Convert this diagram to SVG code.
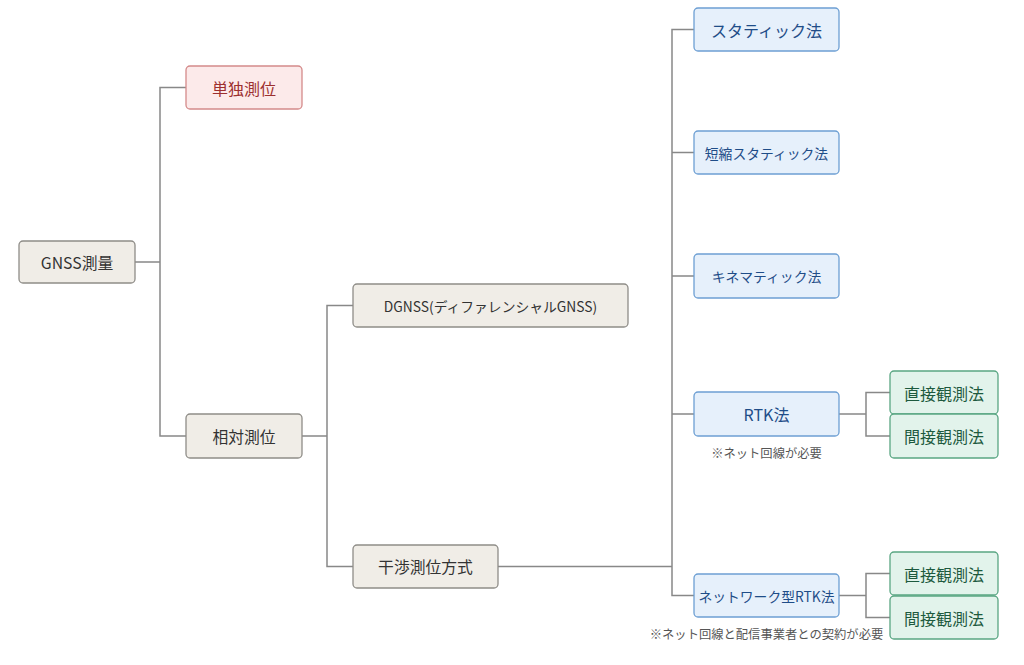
<svg xmlns="http://www.w3.org/2000/svg" width="1024" height="665" viewBox="0 0 1024 665">
<style>
text{font-family:"Noto Sans CJK JP","Noto Sans",sans-serif;text-anchor:middle;dominant-baseline:central}
.g rect{fill:#f0ede7;stroke:#8f8d88;stroke-width:1.3}
.g text{fill:#333;font-size:15.8px}
.r rect{fill:#fceaea;stroke:#d48a8a;stroke-width:1.3}
.r text{fill:#9c2f2f;font-size:16px}
.b rect{fill:#e6f0fb;stroke:#6d9fd3;stroke-width:1.3}
.b text{fill:#1f4d88;font-size:16px}
.b text.s{font-size:13.8px}
.gr rect{fill:#e2f3eb;stroke:#5aa683;stroke-width:1.3}
.gr text{fill:#1d5a3e;font-size:16px}
.note{fill:#555;font-size:12.3px}
.c path{fill:none;stroke:#888;stroke-width:1.5}
</style>
<g class="c" id="connectors">
<path d="M135 262H160M186 87.5H160V436H186"/>
<path d="M302 436H327M353 305.5H327V566.5H353"/>
<path d="M498 566.5H672M694 29.5H672V595.5H694M672 152.5H694M672 276H694M672 414H694"/>
<path d="M839 414H866M890 392.5H866V436H890"/>
<path d="M839 595.5H866M890 573.5H866V617.5H890"/>
</g>
<g id="n-gnss" class="g"><rect x="19" y="241" width="116" height="42" rx="4"/><text x="77" y="262">GNSS測量</text></g>
<g id="n-single" class="r"><rect x="186" y="66" width="116" height="43" rx="4"/><text x="244" y="87.5">単独測位</text></g>
<g id="n-relative" class="g"><rect x="186" y="414" width="116" height="44" rx="4"/><text x="244" y="436">相対測位</text></g>
<g id="n-dgnss" class="g"><rect x="353" y="284" width="275" height="43" rx="4"/><text x="490.5" y="305.5" style="font-size:13.8px">DGNSS(ディファレンシャルGNSS)</text></g>
<g id="n-interf" class="g"><rect x="353" y="545" width="145" height="43" rx="4"/><text x="425.5" y="566.5">干渉測位方式</text></g>
<g id="n-static" class="b"><rect x="694" y="8" width="145" height="43" rx="4"/><text x="766.5" y="29.5">スタティック法</text></g>
<g id="n-faststatic" class="b"><rect x="694" y="131" width="145" height="43" rx="4"/><text class="s" x="766.5" y="152.5">短縮スタティック法</text></g>
<g id="n-kinematic" class="b"><rect x="694" y="254" width="145" height="44" rx="4"/><text class="s" x="766.5" y="276">キネマティック法</text></g>
<g id="n-rtk" class="b"><rect x="694" y="392" width="145" height="44" rx="4"/><text x="766.5" y="414">RTK法</text></g>
<text class="note" x="766.5" y="453">※ネット回線が必要</text>
<g id="n-nrtk" class="b"><rect x="694" y="574" width="145" height="43" rx="4"/><text class="s" x="766.5" y="595.5">ネットワーク型RTK法</text></g>
<text class="note" x="766.5" y="634">※ネット回線と配信事業者との契約が必要</text>
<g id="n-rtk-direct" class="gr"><rect x="890" y="371" width="108" height="43" rx="4"/><text x="944" y="392.5">直接観測法</text></g>
<g id="n-rtk-indirect" class="gr"><rect x="890" y="414" width="108" height="44" rx="4"/><text x="944" y="436">間接観測法</text></g>
<g id="n-nrtk-direct" class="gr"><rect x="890" y="552" width="108" height="43" rx="4"/><text x="944" y="573.5">直接観測法</text></g>
<g id="n-nrtk-indirect" class="gr"><rect x="890" y="596" width="108" height="43" rx="4"/><text x="944" y="617.5">間接観測法</text></g>
</svg>
